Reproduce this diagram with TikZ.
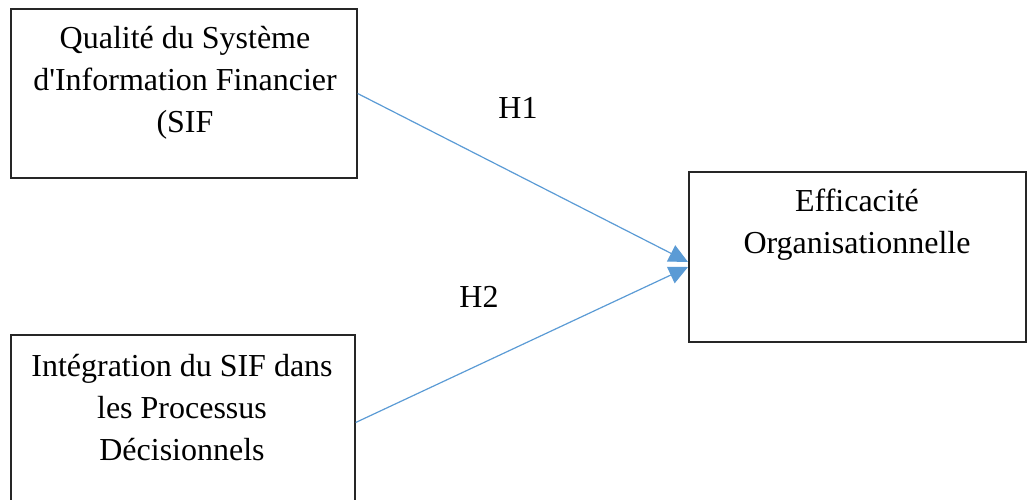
\documentclass[tikz,border=0pt]{standalone}
\usepackage{fontspec}
\setmainfont{Liberation Serif}
\usetikzlibrary{arrows.meta}
\definecolor{lineblue}{HTML}{5B9BD5}
\tikzset{
  box/.style={draw=black!85, line width=1.3pt, rectangle, inner sep=0pt},
  txt/.style={align=center, inner sep=0pt, anchor=base, font=\fontsize{32}{42}\selectfont},
  link/.style={draw=lineblue, line width=1.2pt, -{Triangle[length=19pt,width=18pt]}}
}
\begin{document}
\begin{tikzpicture}[x=1pt,y=-1pt]
\useasboundingbox (0,0) rectangle (1027,499);
\clip (0,0) rectangle (1027,499);
\node[box, minimum width=346pt, minimum height=169pt] (b1) at (184,93.5) {};
\node[box, minimum width=344pt, minimum height=175pt] (b2) at (183,422.5) {};
\node[box, minimum width=337pt, minimum height=170pt] (b3) at (857.5,257) {};
\node[txt] (t1) at (185,132) {Qualité du Système\\d\textquotesingle Information Financier\\(SIF};
\node[txt] (t2) at (182,460) {Intégration du SIF dans\\les Processus\\Décisionnels};
\node[txt] (t3) at (857,253) {Efficacité\\Organisationnelle};
\node[txt] (h1) at (518,118) {H1};
\node[txt] (h2) at (479,307) {H2};
\coordinate (e1) at (688,262);
\coordinate (e2) at (688,267);
\draw[link] (b1.east) -- (e1);
\draw[link] (b2.east) -- (e2);
\end{tikzpicture}
\end{document}
